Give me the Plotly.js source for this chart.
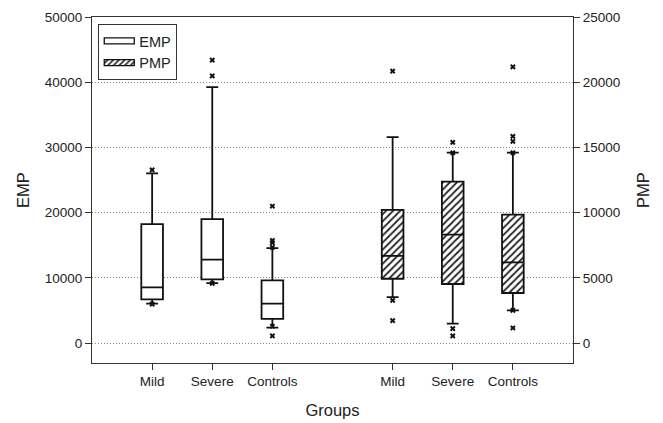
<!DOCTYPE html>
<html>
<head>
<meta charset="utf-8">
<script src="https://cdn.plot.ly/plotly-3.0.1.min.js"></script>
<style>html,body{margin:0;padding:0;background:#fff;}#chart{width:663px;height:423px;}</style>
</head>
<body>
<div id="chart"></div>
<script>
// Categories
var groups = ['Mild', 'Severe', 'Controls'];

// EMP (left axis) box statistics
var empQ1 = [6730, 9790, 3720];
var empMedian = [8560, 12800, 6070];
var empQ3 = [18240, 19010, 9630];
var empLower = [6070, 9220, 2400];
var empUpper = [26040, 39250, 14580];
var empOutliers = [[26560, 6000], [43380, 40980, 9170], [21000, 15750, 15400, 14700, 2600, 1120]];

// PMP (right axis) box statistics
var pmpQ1 = [4940, 4540, 3850];
var pmpMedian = [6700, 8330, 6190];
var pmpQ3 = [10220, 12380, 9860];
var pmpLower = [3540, 1500, 2520];
var pmpUpper = [15800, 14600, 14600];
var pmpOutliers = [[20850, 3280, 1730], [15390, 14600, 1120, 560], [21180, 15850, 15470, 14600, 2520, 1170]];

// Tick labels
var empTicks = [0, 10000, 20000, 30000, 40000, 50000];
var pmpTicks = [0, 5000, 10000, 15000, 20000, 25000];

var empX = groups.map(function (g, i) { return i + 1; });
var pmpX = groups.map(function (g, i) { return i + 5; });

function flattenOutliers(xs, outs) {
  var ox = [], oy = [];
  outs.forEach(function (arr, i) { arr.forEach(function (v) { ox.push(xs[i]); oy.push(v); }); });
  return {x: ox, y: oy};
}
var empO = flattenOutliers(empX, empOutliers);
var pmpO = flattenOutliers(pmpX, pmpOutliers);

var BW = 0.36;
var lineStyle = {color: '#111', width: 1.8};

var traces = [
  {
    type: 'box', name: 'EMP', x: empX, q1: empQ1, median: empMedian, q3: empQ3,
    lowerfence: empLower, upperfence: empUpper, width: BW, whiskerwidth: 0.55,
    fillcolor: '#fff', line: lineStyle, boxpoints: false, yaxis: 'y', xaxis: 'x',
    showlegend: false, hoverinfo: 'skip'
  },
  {
    type: 'scatter', mode: 'none', name: 'EMP', x: [null], y: [null], yaxis: 'y',
    fill: 'toself', fillcolor: '#fff',
    showlegend: true, legendrank: 1
  },
  {
    type: 'bar', name: 'PMP', x: pmpX,
    y: pmpQ3.map(function (v, i) { return v - pmpQ1[i]; }), base: pmpQ1,
    width: BW, yaxis: 'y2', xaxis: 'x',
    marker: {color: '#fff', line: {width: 0},
      pattern: {shape: '/', fgcolor: '#222', bgcolor: '#fff', size: 5, solidity: 0.35}},
    showlegend: false, hoverinfo: 'skip'
  },
  {
    type: 'scatter', mode: 'none', name: 'PMP', x: [null], y: [null], yaxis: 'y2',
    fill: 'toself', fillcolor: '#fff',
    fillpattern: {shape: '/', fgcolor: '#222', bgcolor: '#fff', size: 4, solidity: 0.4},
    showlegend: true, legendrank: 2
  },
  {
    type: 'box', name: 'PMP', x: pmpX, q1: pmpQ1, median: pmpMedian, q3: pmpQ3,
    lowerfence: pmpLower, upperfence: pmpUpper, width: BW, whiskerwidth: 0.55,
    fillcolor: 'rgba(0,0,0,0)', line: lineStyle, boxpoints: false, yaxis: 'y2', xaxis: 'x',
    showlegend: false, hoverinfo: 'skip'
  },
  {
    type: 'scatter', mode: 'markers', x: empO.x, y: empO.y, yaxis: 'y',
    marker: {symbol: 'x', size: 5, color: '#111'}, showlegend: false
  },
  {
    type: 'scatter', mode: 'markers', x: pmpO.x, y: pmpO.y, yaxis: 'y2',
    marker: {symbol: 'x', size: 5, color: '#111'}, showlegend: false
  }
];

var font = {family: 'Liberation Sans, Arial, sans-serif', size: 13.5, color: '#222'};

var layout = {
  width: 663, height: 423,
  margin: {l: 92, r: 90, t: 17, b: 60, pad: 0},
  paper_bgcolor: '#fff', plot_bgcolor: '#fff',
  font: font,
  barmode: 'overlay',
  showlegend: true,
  legend: {
    x: 0.013, y: 0.98, xanchor: 'left', yanchor: 'top',
    bordercolor: '#333', borderwidth: 1, bgcolor: '#fff',
    font: {family: font.family, size: 14.5, color: '#222'},
    traceorder: 'normal', tracegroupgap: 0, itemwidth: 30
  },
  xaxis: {
    range: [0, 8], tickmode: 'array',
    tickvals: empX.concat(pmpX), ticktext: groups.concat(groups),
    ticks: 'outside', ticklen: 6, tickcolor: '#333', tickwidth: 1,
    showline: true, linecolor: '#333', linewidth: 1, mirror: true,
    showgrid: false, zeroline: false,
    title: {text: 'Groups', font: {family: font.family, size: 16.5, color: '#222'}, standoff: 16}
  },
  yaxis: {
    range: [-3030, 50000], tickmode: 'array', tickvals: empTicks,
    ticktext: empTicks.map(String),
    ticks: 'outside', ticklen: 6, tickcolor: '#333', tickwidth: 1,
    showline: true, linecolor: '#333', linewidth: 1,
    showgrid: true, gridcolor: '#888', griddash: '1px,2px', gridwidth: 1,
    zeroline: false,
    title: {text: 'EMP', font: {family: font.family, size: 16.5, color: '#222'}, standoff: 10}
  },
  yaxis2: {
    overlaying: 'y', side: 'right',
    range: [-1515, 25000], tickmode: 'array', tickvals: pmpTicks,
    ticktext: pmpTicks.map(String),
    ticks: 'outside', ticklen: 6, tickcolor: '#333', tickwidth: 1,
    showline: true, linecolor: '#333', linewidth: 1,
    showgrid: false, zeroline: false,
    title: {text: 'PMP', font: {family: font.family, size: 16.5, color: '#222'}, standoff: 18}
  }
};

function outlineLegend() {
  document.querySelectorAll('#chart .legendfill path').forEach(function (p) {
    p.style.stroke = '#111';
    p.style.strokeWidth = '1.3px';
  });
}

Plotly.newPlot('chart', traces, layout, {staticPlot: true, displayModeBar: false}).then(function (gd) {
  outlineLegend();
  gd.on('plotly_afterplot', outlineLegend);
});
</script>
</body>
</html>
